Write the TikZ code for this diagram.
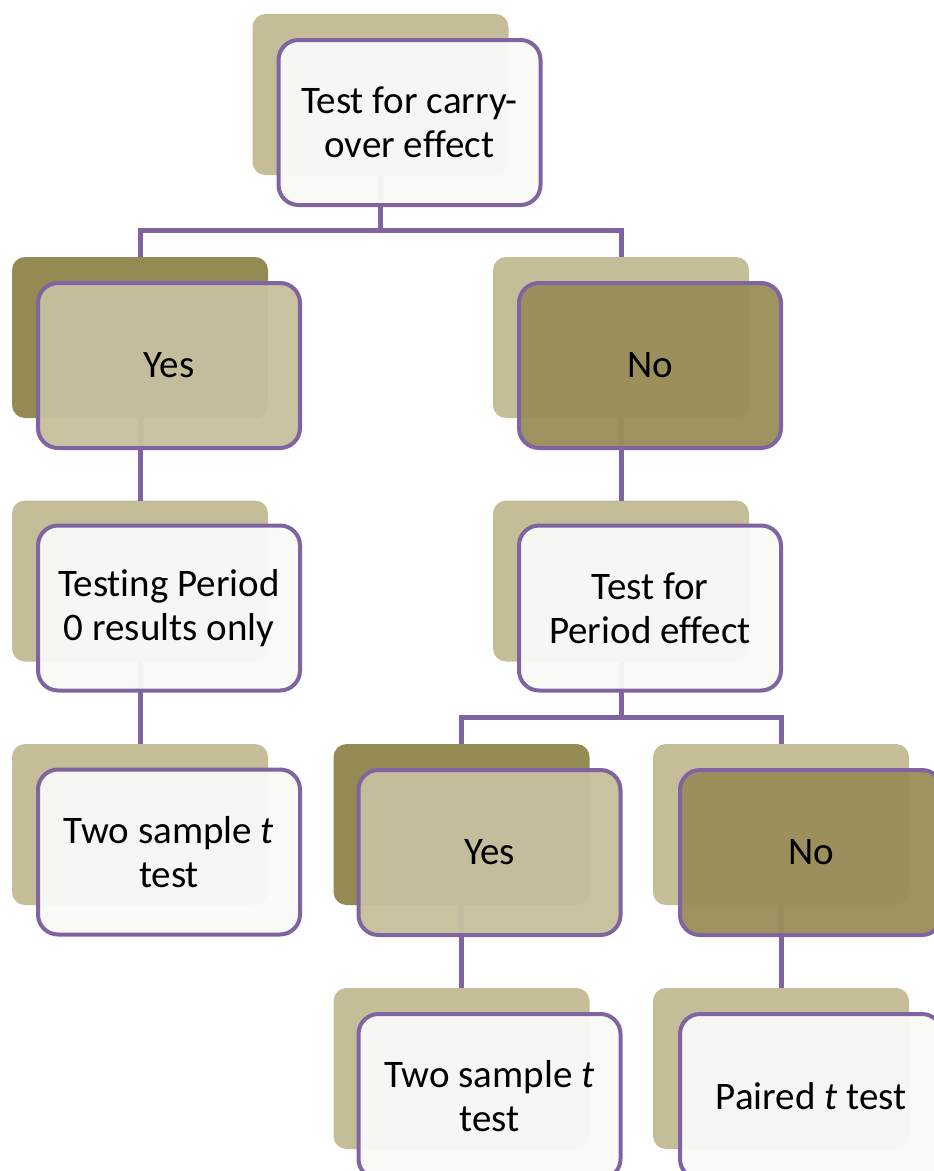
\documentclass[tikz,border=0pt]{standalone}
\usepackage{fontspec}
\setmainfont{Carlito}[Ligatures={NoCommon}]
\definecolor{tanlight}{HTML}{C4BD97}
\definecolor{tandark}{HTML}{948A54}
\definecolor{purp}{HTML}{8064A2}
\definecolor{paper}{HTML}{F9F9F6}
\definecolor{yesfill}{HTML}{C6C09E}
\definecolor{nofill}{HTML}{9A8F5A}
\tikzset{
  backbox/.style={rectangle, rounded corners=13pt, minimum width=256pt, minimum height=161pt, inner sep=0pt, outer sep=0pt, draw=none},
  backlight/.style={backbox, fill=tanlight},
  backdark/.style={backbox, fill=tandark},
  frontbox/.style={rectangle, rounded corners=20pt, minimum width=262pt, minimum height=165pt, inner sep=0pt, outer sep=0pt, draw=purp, line width=4pt, fill opacity=0.96, text opacity=1, align=center, font=\fontsize{39}{44}\selectfont, text=black},
  frontwhite/.style={frontbox, fill=paper},
  frontyes/.style={frontbox, fill=yesfill},
  frontno/.style={frontbox, fill=nofill},
  conn/.style={draw=purp, line width=5pt, line join=miter},
}
\begin{document}
\begin{tikzpicture}[x=1pt,y=1pt]
\useasboundingbox (0,0) rectangle (934,-1171);
\clip (0,0) rectangle (934,-1171);
\fill[white] (0,0) rectangle (934,-1171);
% back boxes
\node[backlight] (b0) at (380.5,-94.5) {};
\node[backdark]  (b1) at (140,-337.5) {};
\node[backlight] (b2) at (621,-337.5) {};
\node[backlight] (b3) at (140,-581) {};
\node[backlight] (b4) at (621,-581) {};
\node[backlight] (b5) at (140,-824.5) {};
\node[backdark]  (b6) at (461.5,-824.5) {};
\node[backlight] (b7) at (781,-824.5) {};
\node[backlight] (b8) at (461.5,-1068.5) {};
\node[backlight] (b9) at (781,-1068.5) {};
% junctions
\coordinate (j1) at (380.5,-230);
\coordinate (j2) at (621,-717);
% connectors (behind the front boxes)
\draw[conn] (b0.south) -- (j1);
\draw[conn] (j1) -| (b1.north);
\draw[conn] (j1) -| (b2.north);
\draw[conn] (b1.south) -- (b3.north);
\draw[conn] (b2.south) -- (b4.north);
\draw[conn] (b3.south) -- (b5.north);
\draw[conn] (b4.south) -- (j2);
\draw[conn] (j2) -| (b6.north);
\draw[conn] (j2) -| (b7.north);
\draw[conn] (b6.south) -- (b8.north);
\draw[conn] (b7.south) -- (b9.north);
% front boxes
\node[frontwhite] (f0) at (409.5,-122.5) {Test for carry-\\over effect};
\node[frontyes]   (f1) at (169,-365.5) {Yes};
\node[frontno]    (f2) at (650,-365.5) {No};
\node[frontwhite] (f3) at (169,-608) {Testing Period\\0 results only};
\node[frontwhite] (f4) at (650,-608) {Test for\\Period effect};
\node[frontwhite] (f5) at (169,-852) {Two sample \textit{t}\\test};
\node[frontyes]   (f6) at (489.5,-852.5) {Yes};
\node[frontno]    (f7) at (811,-852.5) {No};
\node[frontwhite] (f8) at (489.5,-1096.5) {Two sample \textit{t}\\test};
\node[frontwhite] (f9) at (811,-1096.5) {Paired \textit{t} test};
\end{tikzpicture}
\end{document}
